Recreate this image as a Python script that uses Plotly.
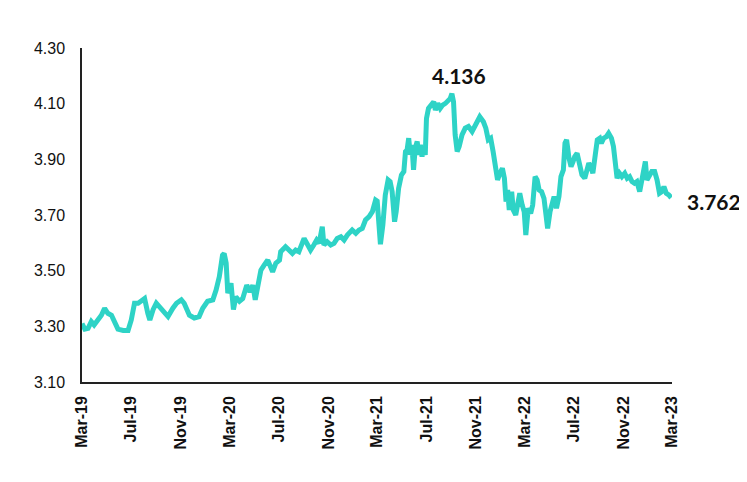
import plotly.graph_objects as go

dates = [
    "2019-03-01", "2019-03-08", "2019-03-16", "2019-03-24", "2019-03-31", "2019-04-10", "2019-04-18",
    "2019-04-26", "2019-05-04", "2019-05-13", "2019-05-21", "2019-05-29", "2019-06-11", "2019-06-23",
    "2019-07-01", "2019-07-09", "2019-07-18", "2019-07-26", "2019-08-03", "2019-08-11", "2019-08-16",
    "2019-08-24", "2019-09-01", "2019-09-09", "2019-09-18", "2019-09-30", "2019-10-12", "2019-10-21",
    "2019-11-02", "2019-11-09", "2019-11-22", "2019-12-04", "2019-12-16", "2019-12-25",
    "2020-01-06", "2020-01-19", "2020-01-27", "2020-02-04", "2020-02-12", "2020-02-16", "2020-02-21",
    "2020-02-25", "2020-03-04", "2020-03-10", "2020-03-16", "2020-03-25", "2020-04-02", "2020-04-12",
    "2020-04-20", "2020-04-27", "2020-05-03", "2020-05-09", "2020-05-17", "2020-05-25", "2020-06-03",
    "2020-06-15", "2020-06-23", "2020-07-02", "2020-07-05", "2020-07-17", "2020-07-26", "2020-08-03",
    "2020-08-11", "2020-08-19", "2020-09-01", "2020-09-09", "2020-09-17", "2020-09-25", "2020-10-02",
    "2020-10-08", "2020-10-16", "2020-10-20", "2020-10-28", "2020-11-06", "2020-11-14", "2020-11-22",
    "2020-12-01", "2020-12-09", "2020-12-17", "2020-12-29",
    "2021-01-07", "2021-01-15", "2021-01-23", "2021-01-31", "2021-02-09", "2021-02-17", "2021-02-25",
    "2021-03-01", "2021-03-05", "2021-03-09", "2021-03-15", "2021-03-21", "2021-03-28", "2021-04-02",
    "2021-04-07", "2021-04-13", "2021-04-17", "2021-04-23", "2021-04-30", "2021-05-06", "2021-05-10",
    "2021-05-14", "2021-05-18", "2021-05-22", "2021-05-26", "2021-05-30", "2021-06-03", "2021-06-08",
    "2021-06-12", "2021-06-16", "2021-06-20", "2021-06-24", "2021-06-28", "2021-07-01", "2021-07-06",
    "2021-07-13", "2021-07-19", "2021-07-23", "2021-07-29", "2021-08-04", "2021-08-10", "2021-08-17",
    "2021-08-23", "2021-08-29", "2021-09-02", "2021-09-06", "2021-09-10", "2021-09-15", "2021-09-20",
    "2021-09-27", "2021-10-05", "2021-10-13", "2021-10-22", "2021-11-02", "2021-11-10", "2021-11-19",
    "2021-11-25", "2021-12-01", "2021-12-07", "2021-12-13", "2021-12-20", "2021-12-24", "2021-12-30",
    "2022-01-05", "2022-01-10", "2022-01-14", "2022-01-18", "2022-01-22", "2022-01-28", "2022-02-01",
    "2022-02-07", "2022-02-12", "2022-02-17", "2022-02-23", "2022-02-28", "2022-03-04", "2022-03-10",
    "2022-03-16", "2022-03-21", "2022-03-27", "2022-04-01", "2022-04-06", "2022-04-12", "2022-04-18",
    "2022-04-23", "2022-04-27", "2022-05-03", "2022-05-08", "2022-05-13", "2022-05-19", "2022-05-25",
    "2022-05-30", "2022-06-05", "2022-06-09", "2022-06-13", "2022-06-19", "2022-06-24", "2022-06-29",
    "2022-07-03", "2022-07-09", "2022-07-15", "2022-07-21", "2022-07-28", "2022-08-01", "2022-08-07",
    "2022-08-12", "2022-08-17", "2022-08-23", "2022-08-28", "2022-09-03", "2022-09-07", "2022-09-13",
    "2022-09-19", "2022-09-25", "2022-10-02", "2022-10-07", "2022-10-11", "2022-10-16", "2022-10-22",
    "2022-10-28", "2022-11-04", "2022-11-10", "2022-11-16", "2022-11-22", "2022-11-28", "2022-12-04",
    "2022-12-11", "2022-12-17", "2022-12-21", "2022-12-25", "2022-12-29",
    "2023-01-05", "2023-01-10", "2023-01-17", "2023-01-23", "2023-01-29", "2023-02-04", "2023-02-09",
    "2023-02-15", "2023-02-21", "2023-02-27",
]

values = [
    3.310, 3.290, 3.293, 3.317, 3.305, 3.323, 3.340,
    3.365, 3.347, 3.340, 3.310, 3.290, 3.285, 3.285,
    3.323, 3.383, 3.383, 3.390, 3.400, 3.347, 3.323,
    3.360, 3.383, 3.370, 3.352, 3.335, 3.365, 3.383,
    3.395, 3.383, 3.340, 3.330, 3.335, 3.365,
    3.390, 3.395, 3.430, 3.478, 3.556, 3.562, 3.527,
    3.419, 3.455, 3.360, 3.406, 3.390, 3.400, 3.448,
    3.424, 3.448, 3.395, 3.442, 3.502, 3.520, 3.538,
    3.496, 3.527, 3.538, 3.568, 3.586, 3.574, 3.562,
    3.574, 3.568, 3.616, 3.598, 3.574, 3.592, 3.610,
    3.598, 3.658, 3.592, 3.604, 3.592, 3.598, 3.616,
    3.622, 3.610, 3.628, 3.646,
    3.634, 3.646, 3.652, 3.682, 3.694, 3.712, 3.754,
    3.750, 3.664, 3.595, 3.664, 3.772, 3.826, 3.820,
    3.784, 3.676, 3.712, 3.796, 3.844, 3.856, 3.928,
    3.934, 3.976, 3.916, 3.952, 3.862, 3.940, 3.964,
    3.916, 3.952, 3.910, 3.940, 3.916, 4.047, 4.083,
    4.095, 4.107, 4.077, 4.101, 4.083, 4.095, 4.101,
    4.113, 4.119, 4.136, 4.107, 3.988, 3.928, 3.946,
    3.988, 4.012, 4.018, 4.000, 4.035, 4.053, 4.035,
    4.012, 3.970, 3.976, 3.928, 3.874, 3.826, 3.850,
    3.868, 3.832, 3.748, 3.790, 3.718, 3.784, 3.718,
    3.700, 3.736, 3.778, 3.736, 3.712, 3.628, 3.724,
    3.706, 3.736, 3.838, 3.826, 3.790, 3.784, 3.760,
    3.688, 3.652, 3.712, 3.748, 3.766, 3.724, 3.766,
    3.838, 3.862, 3.958, 3.970, 3.904, 3.874, 3.892,
    3.910, 3.922, 3.886, 3.844, 3.832, 3.856, 3.886,
    3.874, 3.850, 3.916, 3.970, 3.976, 3.958, 3.976,
    3.981, 3.994, 3.976, 3.946, 3.886, 3.832, 3.850,
    3.838, 3.850, 3.832, 3.838, 3.820, 3.814, 3.820,
    3.784, 3.832, 3.856, 3.892, 3.826,
    3.844, 3.856, 3.856, 3.826, 3.778, 3.784, 3.802,
    3.778, 3.772, 3.762,
]

tick_dates = ["2019-03-01", "2019-07-01", "2019-11-01", "2020-03-01", "2020-07-01",
              "2020-11-01", "2021-03-01", "2021-07-01", "2021-11-01", "2022-03-01",
              "2022-07-01", "2022-11-01", "2023-03-01"]
tick_labels = ["Mar-19", "Jul-19", "Nov-19", "Mar-20", "Jul-20", "Nov-20", "Mar-21",
               "Jul-21", "Nov-21", "Mar-22", "Jul-22", "Nov-22", "Mar-23"]
y_ticks = [3.10, 3.30, 3.50, 3.70, 3.90, 4.10, 4.30]

peak_label = "4.136"
peak_label_pos = ("2021-09-20", 4.20)
last_label = "3.762"

line_color = "#2ED3C6"

fig = go.Figure()
fig.add_trace(go.Scatter(
    x=dates, y=values, mode="lines",
    line=dict(color=line_color, width=5),
    showlegend=False, hoverinfo="skip",
))

fig.add_annotation(
    x=peak_label_pos[0], y=peak_label_pos[1], xref="x", yref="y",
    text="<b>" + peak_label + "</b>", showarrow=False,
    font=dict(family="Lato, Open Sans, sans-serif", size=21, color="#111111"),
)
fig.add_annotation(
    x=1.022, y=values[-1] - 0.015, xref="paper", yref="y",
    text="<b>" + last_label + "</b>", showarrow=False, xanchor="left",
    font=dict(family="Lato, Open Sans, sans-serif", size=21, color="#111111"),
)

fig.update_layout(
    width=747, height=482,
    margin=dict(l=74, r=83, t=40, b=108),
    paper_bgcolor="white", plot_bgcolor="white",
    font=dict(family="Liberation Sans, Arial, sans-serif", color="#111111"),
)
fig.update_xaxes(
    type="date",
    range=["2019-03-01", "2023-03-01"],
    tickmode="array", tickvals=tick_dates,
    ticktext=["<b>" + t + "</b>" for t in tick_labels],
    tickangle=-90, tickfont=dict(size=16),
    showgrid=False, zeroline=False,
    showline=True, linecolor="#222222", linewidth=1.5,
    ticks="", ticklabelstandoff=6,
)
fig.update_yaxes(
    range=[3.10, 4.30],
    tickmode="array", tickvals=y_ticks,
    ticktext=[f"{v:.2f}" for v in y_ticks],
    tickfont=dict(size=16),
    showgrid=False, zeroline=False,
    showline=True, linecolor="#222222", linewidth=1.5,
    ticks="", ticklabelstandoff=12,
)

fig.write_html("out.html")
